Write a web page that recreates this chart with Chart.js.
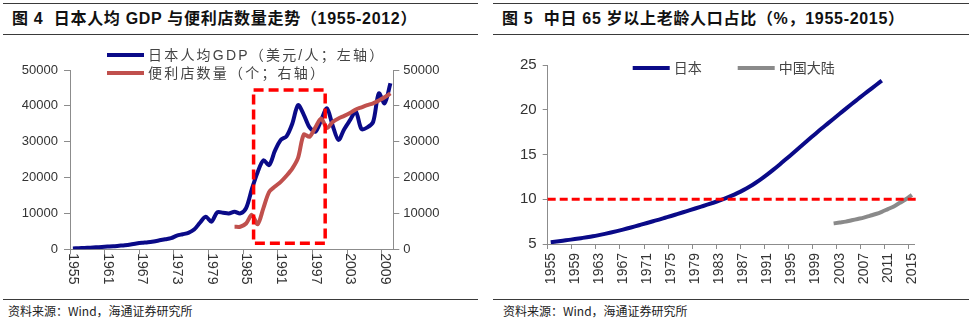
<!DOCTYPE html>
<html>
<head>
<meta charset="utf-8">
<script src="https://cdn.jsdelivr.net/npm/chart.js@4.4.0/dist/chart.umd.min.js"></script>
<style>
  html, body { margin: 0; padding: 0; background: #fff; }
  body { width: 972px; height: 322px; position: relative; overflow: hidden;
         font-family: "Liberation Sans", "Noto Sans CJK SC", sans-serif; }
  .rule { position: absolute; height: 0; border-top: 1px solid #3a3a3a; }
  .title { position: absolute; top: 9px; font-weight: bold; font-size: 16px; line-height: 20px;
           letter-spacing: 0.7px; color: #111; white-space: pre; }
  .src { position: absolute; top: 303px; font-size: 12px; line-height: 16px; color: #222;
         font-family: "Noto Sans CJK SC", "Liberation Sans", sans-serif; }
  canvas { position: absolute; }
</style>
</head>
<body>
<div class="rule" style="left:3px;width:475px;top:3px"></div>
<div class="rule" style="left:3px;width:475px;top:34px"></div>
<div class="rule" style="left:3px;width:475px;top:299px"></div>
<div class="rule" style="left:493px;width:476px;top:3px"></div>
<div class="rule" style="left:493px;width:476px;top:34px"></div>
<div class="rule" style="left:493px;width:476px;top:299px"></div>

<div class="title" style="left:12px">图 4  日本人均 GDP 与便利店数量走势（1955-2012）</div>
<div class="title" style="left:502px">图 5  中日 65 岁以上老龄人口占比（%，1955-2015）</div>

<canvas id="gdpChart" width="486" height="250" style="left:0;top:40px"></canvas>
<canvas id="agingChart" width="486" height="250" style="left:486px;top:40px"></canvas>

<div class="src" style="left:8px">资料来源：Wind，海通证券研究所</div>
<div class="src" style="left:503px">资料来源：Wind，海通证券研究所</div>

<script>
function range(first, last) {
  const out = [];
  for (let y = first; y <= last; y++) out.push(y);
  return out;
}

// ---- Japan GDP per capita vs. convenience stores ----
const gdpYears = range(1955, 2010);
const gdpPerCapita = [
  250, 300, 380, 450, 550, 650, 750, 850, 1000, 1150,
  1350, 1600, 1800, 1950, 2200, 2500, 2800, 3100, 3800, 4200,
  4600, 5500, 7400, 9100, 7700, 10300, 10200, 10000, 10500, 10000,
  11500, 16800, 21500, 24800, 23500, 27500, 30500, 31500, 35000, 40200,
  37500, 34000, 32800, 36000, 39300, 34500, 30500, 33500, 36000, 38400,
  33500, 34000, 35500, 43500, 40700, 46300
];
const storeYears = range(1983, 2010);
const storeCount = [
  6300, 6300, 7200, 9600, 7000, 11500, 16000, 17500, 18800, 20500,
  22500, 25500, 32000, 31400, 34000, 36500, 33800, 35500, 36500, 37200,
  38000, 39000, 39600, 40200, 40700, 41500, 42400, 43500
];
const gdpYearTicks = [1955, 1961, 1967, 1973, 1979, 1985, 1991, 1997, 2003, 2009];
const highlightYears = [1986.8, 1999.2];
const highlightValues = [1700, 44400];

// ---- Share of population aged 65+ (%) ----
const japanYears = range(1955, 2010);
const japanShare = [
  5.20, 5.28, 5.37, 5.46, 5.55, 5.65, 5.75, 5.86, 5.99, 6.13,
  6.28, 6.44, 6.61, 6.79, 6.97, 7.16, 7.35, 7.54, 7.73, 7.93,
  8.13, 8.34, 8.55, 8.76, 8.97, 9.18, 9.39, 9.61, 9.84, 10.09,
  10.37, 10.68, 11.02, 11.40, 11.82, 12.28, 12.78, 13.31, 13.86, 14.43,
  15.01, 15.59, 16.17, 16.75, 17.33, 17.90, 18.45, 19.00, 19.55, 20.10,
  20.64, 21.17, 21.70, 22.22, 22.74, 23.25
];
const chinaYears = range(2002, 2015);
const chinaShare = [7.3, 7.4, 7.5, 7.65, 7.8, 7.95, 8.15, 8.35, 8.6, 8.9, 9.2, 9.6, 10.0, 10.5];
const agingYearTicks = [1955, 1959, 1963, 1967, 1971, 1975, 1979, 1983, 1987, 1991, 1995, 1999, 2003, 2007, 2011, 2015];
const agingThreshold = 10;
const thresholdSpan = [1955, 2016.5];

// each year sits in the middle of its slot on the time axis
const toPoints = (years, values) => years.map((yr, i) => ({ x: yr + 0.5, y: values[i] }));

Chart.defaults.font.family = '"Liberation Sans", "Noto Sans CJK SC", sans-serif';
Chart.defaults.color = '#333';

const AXIS = '#8c8c8c';
const NAVY = '#0a0a88';

// vertical year labels under the time axis
const yearLabels = {
  id: 'yearLabels',
  afterDraw(chart, args, opts) {
    const sc = chart.scales.x, ctx = chart.ctx;
    ctx.save();
    ctx.font = opts.font;
    ctx.fillStyle = opts.color;
    ctx.textBaseline = 'middle';
    sc.ticks.forEach(t => {
      const px = sc.getPixelForValue(t.value + 0.5);
      ctx.save();
      ctx.translate(px, sc.top + opts.offset);
      if (opts.clockwise) { ctx.rotate(Math.PI / 2); ctx.textAlign = 'left'; }
      else { ctx.rotate(-Math.PI / 2); ctx.textAlign = 'right'; }
      ctx.fillText(String(t.value), 0, 0);
      ctx.restore();
    });
    ctx.restore();
  }
};

// line-sample legend placed inside the plot
const lineLegend = {
  id: 'lineLegend',
  afterDraw(chart, args, opts) {
    const ctx = chart.ctx, area = chart.chartArea;
    ctx.save();
    ctx.font = opts.font;
    if ('letterSpacing' in ctx) ctx.letterSpacing = opts.spacing + 'px';
    ctx.textBaseline = 'middle';
    ctx.textAlign = 'left';
    opts.items.forEach(it => {
      const ds = chart.data.datasets[it.dataset];
      const x = area.left + it.dx, y = area.top + it.dy;
      ctx.strokeStyle = ds.borderColor;
      ctx.lineWidth = 4;
      ctx.lineCap = 'butt';
      ctx.beginPath();
      ctx.moveTo(x, y);
      ctx.lineTo(x + 37, y);
      ctx.stroke();
      ctx.fillStyle = opts.color;
      ctx.fillText(ds.label, x + 41, y + 1);
    });
    ctx.restore();
  }
};

// dashed frame around the highlighted period
const highlightBox = {
  id: 'highlightBox',
  afterDatasetsDraw(chart) {
    const sx = chart.scales.x, sy = chart.scales.y, ctx = chart.ctx;
    const x0 = sx.getPixelForValue(highlightYears[0]);
    const x1 = sx.getPixelForValue(highlightYears[1]);
    const y0 = sy.getPixelForValue(highlightValues[1]);
    const y1 = sy.getPixelForValue(highlightValues[0]);
    ctx.save();
    ctx.strokeStyle = '#ff0000';
    ctx.lineWidth = 3.5;
    ctx.setLineDash([10, 5]);
    ctx.strokeRect(x0, y0, x1 - x0, y1 - y0);
    ctx.restore();
  }
};

function valueAxis(position, min, max, step, size, pad, tickLen, width) {
  return {
    type: 'linear', position, min, max,
    ticks: { stepSize: step, padding: pad, color: '#333', font: { size }, callback: v => String(v) },
    grid: { drawOnChartArea: false, tickLength: tickLen, color: AXIS },
    border: { color: AXIS, width: 1 },
    afterFit: s => { s.width = width; }
  };
}

function timeAxis(min, max, tickValues) {
  return {
    type: 'linear', min, max,
    afterBuildTicks: s => { s.ticks = tickValues.map(v => ({ value: v })); },
    ticks: { display: false },
    grid: { drawOnChartArea: false, tickLength: 5, color: AXIS },
    border: { color: AXIS, width: 1 },
    afterFit: s => { s.height = 10; }
  };
}

new Chart(document.getElementById('gdpChart'), {
  type: 'line',
  data: {
    datasets: [
      {
        label: '日本人均GDP（美元/人；左轴）',
        data: toPoints(gdpYears, gdpPerCapita),
        borderColor: NAVY, borderWidth: 4, tension: 0.3,
        pointRadius: 0, yAxisID: 'y', order: 1
      },
      {
        label: '便利店数量（个；右轴）',
        data: toPoints(storeYears, storeCount),
        borderColor: '#c0504d', borderWidth: 4, tension: 0.3,
        pointRadius: 0, yAxisID: 'y1', order: 0
      }
    ]
  },
  options: {
    responsive: false, animation: false, devicePixelRatio: 1,
    layout: { padding: { left: 10, right: 32.7, top: 30, bottom: 30.7 } },
    scales: {
      x: timeAxis(1955, 2011, gdpYearTicks),
      y: valueAxis('left', 0, 50000, 10000, 13, 6, 6, 60),
      y1: valueAxis('right', 0, 50000, 10000, 13, 4, 6, 60)
    },
    plugins: {
      legend: { display: false },
      tooltip: { enabled: false },
      yearLabels: { font: '14px "Liberation Sans", sans-serif', color: '#333', offset: 4, clockwise: true },
      lineLegend: {
        font: '14px "Liberation Sans", "Noto Sans CJK SC", sans-serif', color: '#444', spacing: 2.2,
        items: [{ dataset: 0, dx: 37, dy: -15 }, { dataset: 1, dx: 37, dy: 3 }]
      }
    }
  },
  plugins: [yearLabels, lineLegend, highlightBox]
});

new Chart(document.getElementById('agingChart'), {
  type: 'line',
  data: {
    datasets: [
      {
        label: '10%',
        data: thresholdSpan.map(yr => ({ x: yr, y: agingThreshold })),
        borderColor: '#ff0000', borderWidth: 3, borderDash: [8, 4],
        pointRadius: 0, clip: false, order: 0
      },
      {
        label: '日本',
        data: toPoints(japanYears, japanShare),
        borderColor: NAVY, borderWidth: 4, cubicInterpolationMode: 'monotone',
        pointRadius: 0, order: 1
      },
      {
        label: '中国大陆',
        data: toPoints(chinaYears, chinaShare),
        borderColor: '#8a8a8a', borderWidth: 4, cubicInterpolationMode: 'monotone',
        pointRadius: 0, order: 2
      }
    ]
  },
  options: {
    responsive: false, animation: false, devicePixelRatio: 1,
    layout: { padding: { left: 11.7, right: 57.1, top: 25, bottom: 36 } },
    scales: {
      x: timeAxis(1955, 2016, agingYearTicks),
      y: valueAxis('left', 5, 25, 5, 15, 6, 5, 50)
    },
    plugins: {
      legend: { display: false },
      tooltip: { enabled: false },
      yearLabels: { font: '14px "Liberation Sans", sans-serif', color: '#333', offset: 9, clockwise: false },
      lineLegend: {
        font: '14px "Liberation Sans", "Noto Sans CJK SC", sans-serif', color: '#444', spacing: 0,
        items: [{ dataset: 1, dx: 85, dy: 3 }, { dataset: 2, dx: 190, dy: 3 }]
      }
    }
  },
  plugins: [yearLabels, lineLegend]
});
</script>
</body>
</html>
